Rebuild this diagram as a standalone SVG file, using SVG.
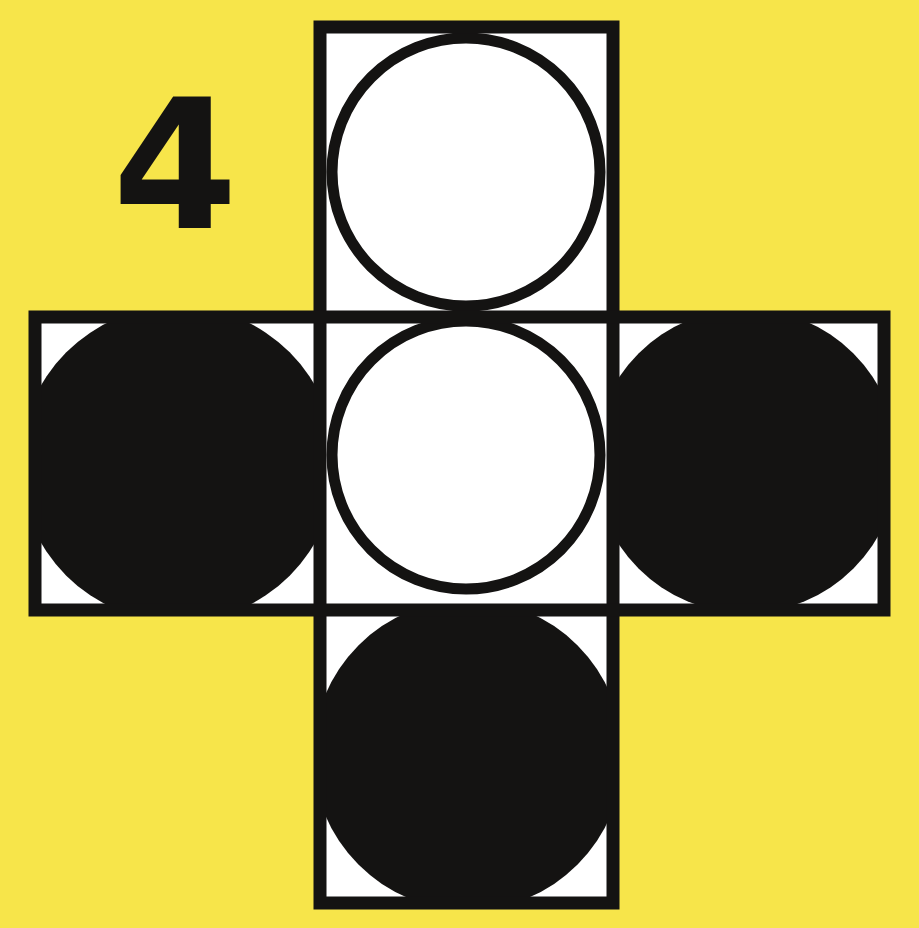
<svg xmlns="http://www.w3.org/2000/svg" width="919" height="928" viewBox="0 0 919 928">
<style>
.face{fill:#ffffff}
.edge{fill:none;stroke:#141312;stroke-width:13;stroke-linejoin:miter}
.dark{fill:#141312}
.light{fill:#ffffff;stroke:#141312;stroke-width:11}
.num{font-family:"DejaVu Sans","Liberation Sans",sans-serif;font-weight:bold;font-size:180px;fill:#141312}
</style>
<defs>
<clipPath id="clipLeft"><rect x="35" y="317" width="285" height="293"/></clipPath>
<clipPath id="clipRight"><rect x="613" y="317" width="271" height="293"/></clipPath>
<clipPath id="clipBottom"><rect x="320" y="610" width="294" height="293"/></clipPath>
</defs>
<rect x="0" y="0" width="919" height="928" fill="#f7e54a"/>
<g id="label"><text class="num" x="175" y="228" text-anchor="middle">4</text></g>
<g id="face-top">
<rect class="face" x="320" y="27" width="293" height="290"/>
<circle class="light" cx="466" cy="172" r="134"/>
</g>
<g id="face-left">
<rect class="face" x="35" y="317" width="285" height="293"/>
<circle class="dark" cx="178" cy="464" r="158" clip-path="url(#clipLeft)"/>
</g>
<g id="face-middle">
<rect class="face" x="320" y="317" width="293" height="293"/>
<circle class="light" cx="466" cy="455" r="134"/>
</g>
<g id="face-right">
<rect class="face" x="613" y="317" width="271" height="293"/>
<circle class="dark" cx="746" cy="461" r="152" clip-path="url(#clipRight)"/>
</g>
<g id="face-bottom">
<rect class="face" x="320" y="610" width="294" height="293"/>
<circle class="dark" cx="468" cy="755" r="155" clip-path="url(#clipBottom)"/>
</g>
<g id="edges">
<rect class="edge" x="320" y="27" width="293" height="876"/>
<rect class="edge" x="35" y="317" width="849" height="293"/>
</g>
</svg>
